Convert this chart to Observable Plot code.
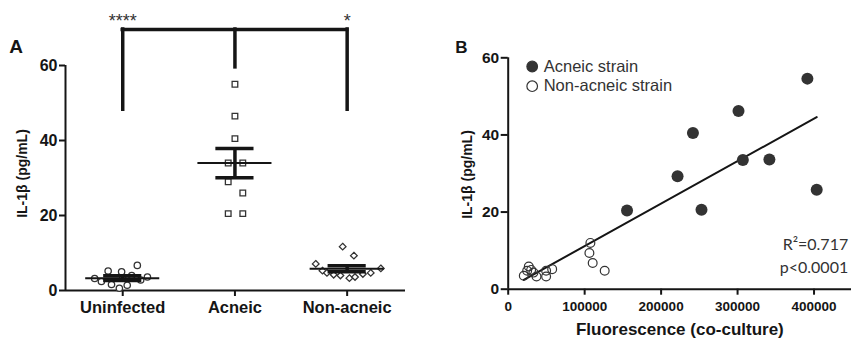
<!DOCTYPE html>
<html>
<head>
<meta charset="utf-8">
<script src="https://cdn.jsdelivr.net/npm/d3@7"></script>
<script src="https://cdn.jsdelivr.net/npm/@observablehq/plot@0.6"></script>
<style>
  html, body { margin: 0; padding: 0; background: #fff; }
  #wrap { display: flex; width: 851px; height: 338px; overflow: hidden; }
  #wrap svg { display: block; overflow: visible; }
</style>
</head>
<body>
<div id="wrap"></div>
<script>
// ---------- Panel A data ----------
const categories = ["Uninfected", "Acneic", "Non-acneic"];
const uninfectedValues = [3.2, 2.4, 5.2, 1.6, 0.6, 5.0, 1.4, 4.0, 6.7, 2.8, 3.6, 3.3];
const uninfectedJitter = [-0.25, -0.19, -0.13, -0.10, -0.03, -0.01, 0.04, 0.08, 0.13, 0.16, 0.22, 0.0];
const acneicValues = [55, 46.5, 40.5, 34, 34, 29, 26, 20.5, 20.5];
const acneicJitter = [0, 0, 0, -0.06, 0.07, -0.06, 0.07, -0.06, 0.07];
const nonAcneicValues = [11.7, 9.3, 7.1, 5.3, 4.7, 4.2, 4.0, 3.3, 3.6, 4.4, 4.7, 5.9];
const nonAcneicJitter = [-0.04, 0.06, -0.28, -0.22, -0.18, -0.12, -0.06, 0.02, 0.07, 0.14, 0.21, 0.30];
const groupMeans = [3.3, 34.0, 5.8];
const groupSEM = [0.65, 3.9, 0.8];
const yTicksA = [0, 20, 40, 60];
const bracketTop = 69.6;
const bracketLegBottoms = [48.2, 59.5, 48.2];
const sigCats = [0, 2];
const sigTexts = ["****", "*"];

// ---------- Panel B data ----------
const acneicFluor = [155400, 221500, 241600, 252800, 301200, 306900, 341600, 391300, 403500];
const acneicIL1b  = [20.4, 29.3, 40.5, 20.6, 46.2, 33.5, 33.6, 54.6, 25.8];
const nonAcneicFluor = [20400, 24800, 26900, 30000, 33000, 37000, 49600, 49600, 57500, 107500, 106200, 110500, 126200];
const nonAcneicIL1b  = [3.5, 4.8, 5.9, 5.0, 4.3, 3.3, 4.8, 3.3, 5.2, 12.0, 9.4, 6.8, 4.8];
const xTicksB = [0, 100000, 200000, 300000, 400000];
const yTicksB = [0, 20, 40, 60];
const legendLabels = ["Acneic strain", "Non-acneic strain"];
const statsText = ["R\u00B2=0.717", "p<0.0001"];

const FONT = "'Liberation Sans', Arial, Helvetica, sans-serif";
const INK = "#151515";
const PT = "#333333";

// ---------- build panel A ----------
const groupsA = [
  {values: uninfectedValues, jitter: uninfectedJitter, symbol: "circle", r: 4.6},
  {values: acneicValues, jitter: acneicJitter, symbol: "square", r: 4.6},
  {values: nonAcneicValues, jitter: nonAcneicJitter, symbol: "diamond2", r: 4.1}
];
const pointsA = groupsA.flatMap((g, gi) => g.values.map((v, i) => ({cat: gi, x: gi + g.jitter[i], y: v, symbol: g.symbol, r: g.r})));
const statsA = categories.map((c, i) => ({cat: i, mean: groupMeans[i], sem: groupSEM[i]}));
const xDomA = [-0.51, 2.52];

const plotA = Plot.plot({
  width: 430, height: 338,
  marginLeft: 65, marginRight: 25, marginTop: 65, marginBottom: 48,
  x: {type: "linear", domain: xDomA},
  y: {domain: [0, 60]},
  style: {fontFamily: FONT, color: INK, background: "transparent"},
  marks: [
    Plot.ruleX([xDomA[0]], {y1: 0, y2: 60, stroke: INK, strokeWidth: 2}),
    Plot.ruleY([0], {x1: xDomA[0], x2: xDomA[1], stroke: INK, strokeWidth: 2}),
    Plot.axisY({ticks: yTicksA, tickSize: 6, tickPadding: 2, strokeWidth: 2, fontSize: 16, fontWeight: "bold", label: null, fill: INK}),
    Plot.axisX({ticks: [0, 1, 2], tickFormat: i => categories[i], tickSize: 6, tickPadding: 5, strokeWidth: 2, fontSize: 16.5, fontWeight: "bold", label: null, fill: INK}),
    Plot.text(["IL-1\u03B2 (pg/mL)"], {frameAnchor: "left", rotate: -90, dx: -43, dy: -4.5, textAnchor: "middle", lineAnchor: "middle", fontSize: 14, fontWeight: "bold", fill: INK}),
    Plot.text(["A"], {frameAnchor: "top-left", dx: -49.5, dy: -18.3, textAnchor: "middle", lineAnchor: "middle", fontSize: 19, fontWeight: "bold", fill: INK}),
    // points
    Plot.dot(pointsA, {x: "x", y: "y", symbol: "symbol", r: "r", stroke: PT, fill: "white", strokeWidth: 1.3}),
    // mean line
    Plot.ruleY(statsA, {y: "mean", x1: d => d.cat - 0.33, x2: d => d.cat + 0.33, stroke: INK, strokeWidth: 2}),
    // SEM
    Plot.ruleX(statsA, {x: "cat", y1: d => d.mean - d.sem, y2: d => d.mean + d.sem, stroke: INK, strokeWidth: 3.5}),
    Plot.ruleY(statsA, {y: d => d.mean + d.sem, x1: d => d.cat - 0.17, x2: d => d.cat + 0.17, stroke: INK, strokeWidth: 3.5}),
    Plot.ruleY(statsA, {y: d => d.mean - d.sem, x1: d => d.cat - 0.17, x2: d => d.cat + 0.17, stroke: INK, strokeWidth: 3.5}),
    // significance bracket
    Plot.ruleY([bracketTop], {x1: 0, x2: 2, stroke: INK, strokeWidth: 3.5, strokeLinecap: "square"}),
    Plot.ruleX(categories.map((c, i) => i), {x: d => d, y1: (d, i) => bracketLegBottoms[i], y2: bracketTop, stroke: INK, strokeWidth: 3.5, strokeLinecap: "square"}),
    Plot.text(sigCats, {x: d => d, y: bracketTop, text: (d, i) => sigTexts[i], dy: -3, fontSize: 18, fill: PT, lineAnchor: "bottom"})
  ]
});

// ---------- build panel B ----------
const pointsB = [
  ...acneicFluor.map((x, i) => ({x, y: acneicIL1b[i], strain: "Acneic"})),
  ...nonAcneicFluor.map((x, i) => ({x, y: nonAcneicIL1b[i], strain: "Non-acneic"}))
];
const xDomB = [0, 449000];
const legendFill = [PT, "white"];
const legendDy = [8.7, 28.4];
const statsDy = [-44, -21];

const plotB = Plot.plot({
  width: 421, height: 338,
  marginLeft: 77.7, marginRight: 0, marginTop: 57.3, marginBottom: 49.3,
  x: {domain: xDomB},
  y: {domain: [0, 60]},
  style: {fontFamily: FONT, color: INK, background: "transparent"},
  marks: [
    Plot.ruleX([0], {y1: 0, y2: 60, stroke: INK, strokeWidth: 2}),
    Plot.ruleY([0], {x1: xDomB[0], x2: xDomB[1], stroke: INK, strokeWidth: 2}),
    Plot.axisY({ticks: yTicksB, tickSize: 7, tickPadding: 2, strokeWidth: 2, fontSize: 15.5, fontWeight: "bold", label: null, fill: INK}),
    Plot.axisX({ticks: xTicksB, tickFormat: d => String(d), tickSize: 6, tickPadding: 6, strokeWidth: 2, fontSize: 13.5, fontWeight: "bold", label: null, fill: INK}),
    Plot.text(["IL-1\u03B2 (pg/mL)"], {frameAnchor: "left", rotate: -90, dx: -41, dy: 1, textAnchor: "middle", lineAnchor: "middle", fontSize: 14, fontWeight: "bold", fill: INK}),
    Plot.text(["Fluorescence (co-culture)"], {frameAnchor: "bottom", dy: 40, textAnchor: "middle", lineAnchor: "middle", fontSize: 17, fontWeight: "bold", fill: INK}),
    Plot.text(["B"], {frameAnchor: "top-left", dx: -46.7, dy: -10.3, textAnchor: "middle", lineAnchor: "middle", fontSize: 17, fontWeight: "bold", fill: INK}),
    Plot.linearRegressionY(pointsB, {x: "x", y: "y", ci: 0, stroke: INK, strokeWidth: 2}),
    Plot.dot(pointsB.filter(d => d.strain === "Non-acneic"), {x: "x", y: "y", r: 4.4, stroke: PT, fill: "white", fillOpacity: 0, strokeWidth: 1.2}),
    Plot.dot(pointsB.filter(d => d.strain === "Acneic"), {x: "x", y: "y", r: 6, fill: PT, stroke: "none"}),
    // legend
    ...legendLabels.flatMap((lab, i) => [
      Plot.dot([lab], {frameAnchor: "top-left", dx: 24, dy: legendDy[i], r: 5.3, fill: legendFill[i], stroke: PT, strokeWidth: 1.2}),
      Plot.text([lab], {frameAnchor: "top-left", dx: 35.5, dy: legendDy[i], textAnchor: "start", lineAnchor: "middle", fontSize: 16.5, fill: PT})
    ]),
    // stats
    ...statsText.map((t, i) =>
      Plot.text([t], {frameAnchor: "bottom-right", dx: -3.3, dy: statsDy[i], lineAnchor: "middle", fontSize: 16, fill: PT, textAnchor: "end", fontFamily: "Lato, 'Open Sans', sans-serif"})
    )
  ]
});

document.getElementById("wrap").append(plotA, plotB);
</script>
</body>
</html>
